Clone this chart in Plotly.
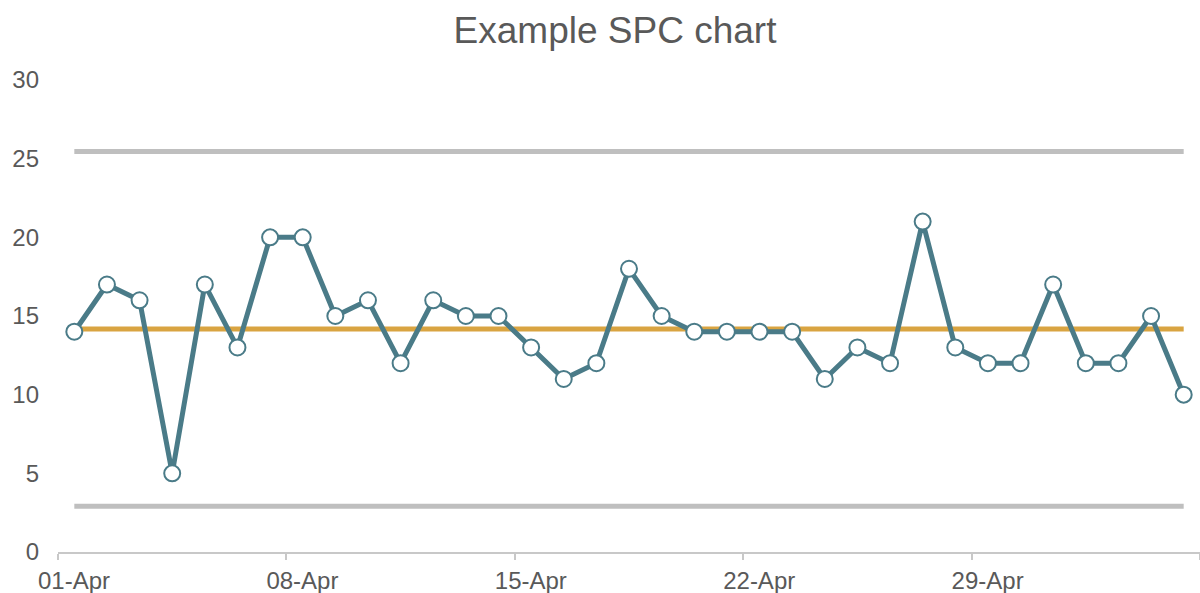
import pandas as pd
import plotly.graph_objects as go

start_date = "2021-04-01"
values = [14, 17, 16, 5, 17, 13, 20, 20, 15, 16, 12, 16, 15, 15, 13, 11, 12, 18,
          15, 14, 14, 14, 14, 11, 13, 12, 21, 13, 12, 12, 17, 12, 12, 15, 10]
centre = 14.17
ucl = 25.45
lcl = 2.9
title = "Example SPC chart"

dates = pd.date_range(start_date, periods=len(values), freq="D")
xpos = dates + pd.Timedelta(hours=12)

TEAL = "#4A7B88"
GOLD = "#D9A441"
GREY = "#BFBFBF"
TXT = "#595959"

fig = go.Figure()
for lvl in (ucl, lcl):
    fig.add_trace(go.Scatter(x=xpos, y=[lvl] * len(values), mode="lines",
                             line=dict(color=GREY, width=5), hoverinfo="skip",
                             showlegend=False))
fig.add_trace(go.Scatter(x=xpos, y=[centre] * len(values), mode="lines",
                         line=dict(color=GOLD, width=5), showlegend=False))
fig.add_trace(go.Scatter(x=xpos, y=values, mode="lines+markers",
                         line=dict(color=TEAL, width=5),
                         marker=dict(size=16, color="white",
                                     line=dict(color=TEAL, width=2)),
                         showlegend=False))

end = dates[-1] + pd.Timedelta(days=1)
fig.update_layout(
    width=1200, height=593,
    paper_bgcolor="white", plot_bgcolor="white",
    margin=dict(l=58, r=0, t=80, b=41),
    font=dict(family="Liberation Sans, Arial, sans-serif", color=TXT),
    title=dict(text=title, x=615 / 1200, xanchor="center", y=1 - 30 / 593,
               yanchor="middle", yref="container", xref="paper",
               font=dict(size=37, color=TXT)),
    xaxis=dict(type="date", range=[dates[0], end], tick0=dates[0],
               dtick=7 * 86400000, tickformat="%d-%b", showgrid=False,
               showline=True, linecolor="#C8C8C8", linewidth=2,
               ticks="outside", ticklen=6, tickcolor="#C8C8C8", tickwidth=2,
               ticklabelshift=16, ticklabelstandoff=0, automargin=False,
               tickfont=dict(size=24, color=TXT), zeroline=False),
    yaxis=dict(range=[0, 30], dtick=5, showgrid=False, showline=False,
               zeroline=False, ticks="", ticklabelstandoff=18, automargin=False,
               tickfont=dict(size=24, color=TXT)),
)
fig.update_layout(title_xref="container")

fig.write_html("out.html", config={"displayModeBar": False},
               post_script="document.body.style.margin='0';document.body.style.overflow='hidden';")
